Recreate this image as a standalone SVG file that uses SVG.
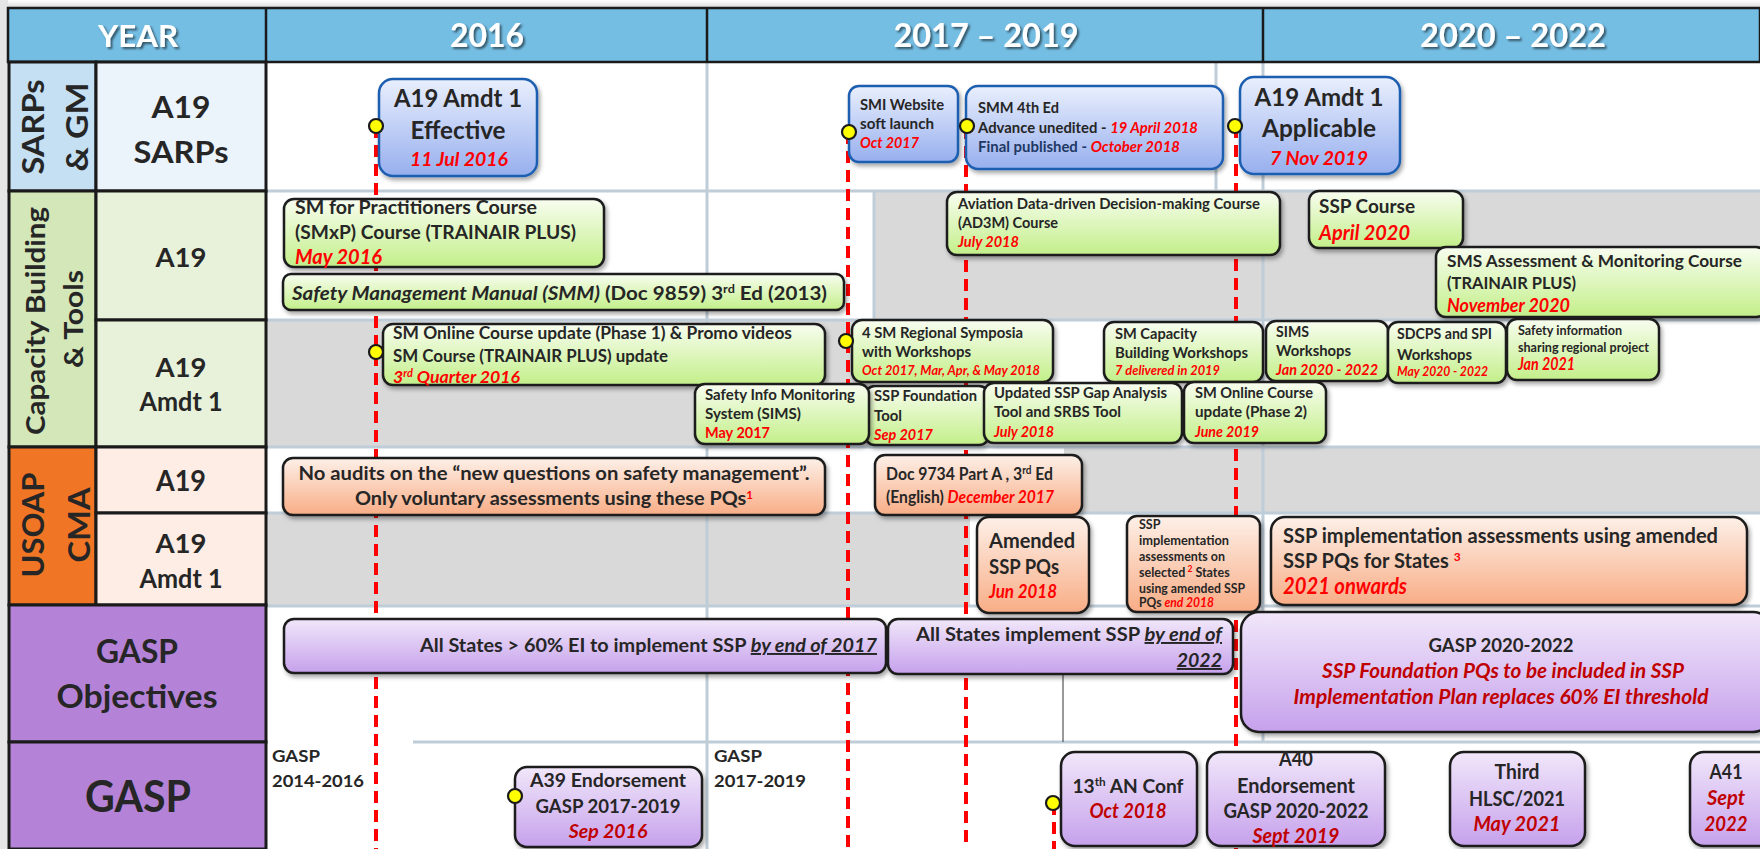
<svg xmlns="http://www.w3.org/2000/svg" width="1760" height="849" viewBox="0 0 1760 849">
<defs>
<linearGradient id="gBlue" x1="0" y1="0" x2="0" y2="1"><stop offset="0" stop-color="#E9EFFD"/><stop offset="1" stop-color="#97AFEE"/></linearGradient>
<linearGradient id="gGreen" x1="0" y1="0" x2="0" y2="1"><stop offset="0" stop-color="#F8FDF0"/><stop offset="1" stop-color="#C3EF89"/></linearGradient>
<linearGradient id="gSalmon" x1="0" y1="0" x2="0" y2="1"><stop offset="0" stop-color="#FDF0E8"/><stop offset="1" stop-color="#F8AD86"/></linearGradient>
<linearGradient id="gPurple" x1="0" y1="0" x2="0" y2="1"><stop offset="0" stop-color="#F1E7FA"/><stop offset="1" stop-color="#C6A1EC"/></linearGradient>
<linearGradient id="gTop" x1="0" y1="0" x2="0" y2="1"><stop offset="0" stop-color="#FFFFFF"/><stop offset="1" stop-color="#D8D8D8"/></linearGradient>
<filter id="sh" x="-10%" y="-10%" width="130%" height="140%"><feDropShadow dx="2" dy="3" stdDeviation="2" flood-color="#000" flood-opacity="0.35"/></filter>
<filter id="tsh" x="-10%" y="-10%" width="130%" height="140%"><feDropShadow dx="2" dy="2" stdDeviation="1" flood-color="#000" flood-opacity="0.55"/></filter>
</defs>
<style>
.f{font-family:Lato,'Liberation Sans',sans-serif;font-weight:bold;fill:#262626}
.c{text-anchor:middle}
.e{text-anchor:end}
.r{fill:#FF0000;font-style:italic}
.dr{fill:#C00000;font-style:italic}
.hd{fill:#FFFFFF;font-size:32px;text-anchor:middle;filter:url(#tsh)}
.blue{fill:url(#gBlue);stroke:#1F5FB0;stroke-width:2.5;filter:url(#sh)}
.green{fill:url(#gGreen);stroke:#1A1A1A;stroke-width:2.5;filter:url(#sh)}
.salmon{fill:url(#gSalmon);stroke:#1A1A1A;stroke-width:2.5;filter:url(#sh)}
.purple{fill:url(#gPurple);stroke:#1A1A1A;stroke-width:2.5;filter:url(#sh)}
.dash{stroke:#FF0000;stroke-width:4;stroke-dasharray:12 7;fill:none}
.dot{fill:#FFFF00;stroke:#1A1A1A;stroke-width:2.2}
.grid{stroke:#BFCDD8;stroke-width:3}
.cell{stroke:#1A1A1A;stroke-width:3}
.grey{fill:#D9D9D9}
.u{text-decoration:underline;font-style:italic}
</style>

<rect x="0" y="0" width="1760" height="849" fill="#FFFFFF"/>
<rect x="0" y="0" width="1760" height="8" fill="url(#gTop)"/>
<rect x="0" y="0" width="8" height="849" fill="#E6E6E6"/>

<g id="chart-area">
<rect x="266" y="62" width="1494" height="787" fill="#FFFFFF"/>
<rect class="grey" x="874" y="191" width="886" height="129"/>
<rect class="grey" x="266" y="320" width="608" height="127"/>
<rect class="grey" x="1064" y="447" width="696" height="66"/>
<rect class="grey" x="266" y="513" width="704" height="92"/>
<line class="grid" x1="266" y1="191" x2="1760" y2="191"/>
<line class="grid" x1="266" y1="320" x2="1760" y2="320"/>
<line class="grid" x1="266" y1="447" x2="1760" y2="447"/>
<line class="grid" x1="266" y1="513" x2="1760" y2="513"/>
<line class="grid" x1="266" y1="606" x2="1760" y2="606"/>
<line class="grid" x1="413" y1="742" x2="1760" y2="742"/>
<line class="grid" x1="707" y1="62" x2="707" y2="849"/>
<line class="grid" x1="1263" y1="62" x2="1263" y2="742"/>
<line class="grid" x1="1216" y1="62" x2="1216" y2="191"/>
<line class="grid" x1="874" y1="191" x2="874" y2="320"/>
<line x1="1063" y1="673" x2="1063" y2="742" stroke="#555" stroke-width="1.2"/>
</g>

<g id="header">
<rect x="8" y="8" width="1752" height="54" fill="#74BDE3" stroke="#1A1A1A" stroke-width="2.5"/>
<line x1="266" y1="8" x2="266" y2="62" stroke="#1A1A1A" stroke-width="2.5"/>
<line x1="707" y1="8" x2="707" y2="62" stroke="#1A1A1A" stroke-width="2.5"/>
<line x1="1263" y1="8" x2="1263" y2="62" stroke="#1A1A1A" stroke-width="2.5"/>
<text class="f hd" x="138" y="47" style="font-size:31px" textLength="80" lengthAdjust="spacingAndGlyphs">YEAR</text>
<text class="f hd" x="487" y="47" textLength="74" lengthAdjust="spacingAndGlyphs">2016</text>
<text class="f hd" x="986" y="47" textLength="185" lengthAdjust="spacingAndGlyphs">2017 – 2019</text>
<text class="f hd" x="1513" y="47" textLength="186" lengthAdjust="spacingAndGlyphs">2020 – 2022</text>
</g>

<g id="row-sarps">
<rect class="cell" x="9" y="62" width="87" height="129" fill="#C5DFF3"/>
<rect class="cell" x="96" y="62" width="170" height="129" fill="#EBF3FB"/>
<text class="f c" transform="translate(44,127) rotate(-90)" style="font-size:31px" textLength="95" lengthAdjust="spacingAndGlyphs">SARPs</text>
<text class="f c" transform="translate(88,127) rotate(-90)" style="font-size:31px" textLength="89" lengthAdjust="spacingAndGlyphs">&amp; GM</text>
<text class="f c" x="181" y="118" style="font-size:31px" textLength="59" lengthAdjust="spacingAndGlyphs">A19</text>
<text class="f c" x="181" y="163" style="font-size:31px" textLength="95" lengthAdjust="spacingAndGlyphs">SARPs</text>
</g>
<g id="row-capacity">
<rect class="cell" x="9" y="191" width="87" height="256" fill="#D3E7B8"/>
<rect class="cell" x="96" y="191" width="170" height="129" fill="#E8F2DA"/>
<rect class="cell" x="96" y="320" width="170" height="127" fill="#E8F2DA"/>
<text class="f c" transform="translate(45,321) rotate(-90)" style="font-size:27px" textLength="228" lengthAdjust="spacingAndGlyphs">Capacity Building</text>
<text class="f c" transform="translate(83,319) rotate(-90)" style="font-size:27px" textLength="98" lengthAdjust="spacingAndGlyphs">&amp; Tools</text>
<text class="f c" x="181" y="267" style="font-size:27px" textLength="51" lengthAdjust="spacingAndGlyphs">A19</text>
<text class="f c" x="181" y="377" style="font-size:27px" textLength="51" lengthAdjust="spacingAndGlyphs">A19</text>
<text class="f c" x="181" y="411" style="font-size:26px" textLength="83" lengthAdjust="spacingAndGlyphs">Amdt 1</text>
</g>
<g id="row-usoap">
<rect class="cell" x="9" y="447" width="87" height="158" fill="#F07524"/>
<rect class="cell" x="96" y="447" width="170" height="66" fill="#FDEDE4"/>
<rect class="cell" x="96" y="513" width="170" height="92" fill="#FDEDE4"/>
<text class="f c" transform="translate(44,525) rotate(-90)" style="font-size:30px" textLength="105" lengthAdjust="spacingAndGlyphs">USOAP</text>
<text class="f c" transform="translate(90,525) rotate(-90)" style="font-size:30px" textLength="75" lengthAdjust="spacingAndGlyphs">CMA</text>
<text class="f c" x="181" y="491" style="font-size:28px" textLength="50" lengthAdjust="spacingAndGlyphs">A19</text>
<text class="f c" x="181" y="553" style="font-size:27px" textLength="51" lengthAdjust="spacingAndGlyphs">A19</text>
<text class="f c" x="181" y="588" style="font-size:26px" textLength="83" lengthAdjust="spacingAndGlyphs">Amdt 1</text>
</g>
<g id="row-gasp-objectives">
<rect class="cell" x="9" y="605" width="257" height="137" fill="#B483D8"/>
<text class="f c" x="137" y="663" style="font-size:32px" textLength="82" lengthAdjust="spacingAndGlyphs">GASP</text>
<text class="f c" x="137" y="708" style="font-size:32px" textLength="161" lengthAdjust="spacingAndGlyphs">Objectives</text>
</g>
<g id="row-gasp">
<rect class="cell" x="9" y="742" width="257" height="107" fill="#B483D8"/>
<text class="f c" x="138" y="812" style="font-size:44px" textLength="106" lengthAdjust="spacingAndGlyphs">GASP</text>
</g>

<g id="connectors">
<line class="dash" x1="376" y1="126" x2="376" y2="849"/>
<line class="dash" x1="848" y1="132" x2="848" y2="849"/>
<line class="dash" x1="966" y1="127" x2="966" y2="849"/>
<line class="dash" x1="1236" y1="126" x2="1236" y2="849"/>
<line class="dash" x1="1054" y1="803" x2="1054" y2="849"/>
</g>

<g id="a19-amdt1-effective">
<rect class="blue" x="379" y="79" width="158" height="97" rx="14"/>
<text class="f c" x="458" y="107" style="font-size:24px" textLength="128" lengthAdjust="spacingAndGlyphs">A19 Amdt 1</text>
<text class="f c" x="458" y="139" style="font-size:24px" textLength="95" lengthAdjust="spacingAndGlyphs">Effective</text>
<text class="f c r" x="459" y="166" style="font-size:19.5px" textLength="98" lengthAdjust="spacingAndGlyphs">11 Jul 2016</text>
<circle class="dot" cx="376" cy="126" r="7"/>
</g>
<g id="smi-website">
<rect class="blue" x="849" y="86" width="109" height="76" rx="10"/>
<text class="f" x="860" y="110" style="font-size:15px" textLength="84" lengthAdjust="spacingAndGlyphs">SMI Website</text>
<text class="f" x="860" y="129" style="font-size:15px" textLength="74" lengthAdjust="spacingAndGlyphs">soft launch</text>
<text class="f r" x="860" y="148" style="font-size:15px" textLength="59" lengthAdjust="spacingAndGlyphs">Oct 2017</text>
<circle class="dot" cx="849" cy="132" r="7"/>
</g>
<g id="smm-4th-ed">
<rect class="blue" x="966" y="86" width="257" height="83" rx="12"/>
<text class="f" x="978" y="113" style="font-size:14.5px" textLength="81" lengthAdjust="spacingAndGlyphs">SMM 4th Ed</text>
<text class="f" x="978" y="133" style="font-size:14.5px" textLength="220" lengthAdjust="spacingAndGlyphs">Advance unedited - <tspan class="r">19 April 2018</tspan></text>
<text class="f" x="978" y="152" style="font-size:14.5px;fill:#1F3864" textLength="202" lengthAdjust="spacingAndGlyphs">Final published - <tspan class="r">October 2018</tspan></text>
<circle class="dot" cx="967" cy="126" r="7"/>
</g>
<g id="a19-amdt1-applicable">
<rect class="blue" x="1240" y="77" width="160" height="97" rx="14"/>
<text class="f c" x="1319" y="106" style="font-size:24px" textLength="129" lengthAdjust="spacingAndGlyphs">A19 Amdt 1</text>
<text class="f c" x="1319" y="137" style="font-size:25px" textLength="114" lengthAdjust="spacingAndGlyphs">Applicable</text>
<text class="f c r" x="1319" y="165" style="font-size:19.5px" textLength="98" lengthAdjust="spacingAndGlyphs">7 Nov 2019</text>
<circle class="dot" cx="1235" cy="126" r="7"/>
</g>

<g id="smxp-course">
<rect class="green" x="284" y="199" width="320" height="68" rx="10"/>
<text class="f" x="295" y="214" style="font-size:19px" textLength="242" lengthAdjust="spacingAndGlyphs">SM for Practitioners Course</text>
<text class="f" x="295" y="239" style="font-size:19px" textLength="281" lengthAdjust="spacingAndGlyphs">(SMxP) Course (TRAINAIR PLUS)</text>
<text class="f r" x="295" y="264" style="font-size:20px" textLength="87" lengthAdjust="spacingAndGlyphs">May 2016</text>
</g>
<g id="smm-3rd-ed">
<rect class="green" x="283" y="274" width="561" height="36" rx="8"/>
<text class="f" x="292" y="300" style="font-size:19.5px" textLength="535" lengthAdjust="spacingAndGlyphs"><tspan font-style="italic">Safety Management Manual (SMM)</tspan> (Doc 9859) 3<tspan baseline-shift="super" style="font-size:12px">rd</tspan> Ed (2013)</text>
</g>
<g id="ad3m-course">
<rect class="green" x="947" y="192" width="333" height="63" rx="10"/>
<text class="f" x="958" y="209" style="font-size:15px" textLength="302" lengthAdjust="spacingAndGlyphs">Aviation Data-driven Decision-making Course</text>
<text class="f" x="958" y="228" style="font-size:15px" textLength="100" lengthAdjust="spacingAndGlyphs">(AD3M) Course</text>
<text class="f r" x="958" y="247" style="font-size:15px" textLength="61" lengthAdjust="spacingAndGlyphs">July 2018</text>
</g>
<g id="ssp-course">
<rect class="green" x="1309" y="191" width="154" height="57" rx="10"/>
<text class="f" x="1319" y="213" style="font-size:19px" textLength="96" lengthAdjust="spacingAndGlyphs">SSP Course</text>
<text class="f r" x="1319" y="240" style="font-size:21px" textLength="91" lengthAdjust="spacingAndGlyphs">April 2020</text>
</g>
<g id="sms-assessment-course">
<rect class="green" x="1436" y="247" width="330" height="70" rx="10"/>
<text class="f" x="1447" y="267" style="font-size:17px" textLength="295" lengthAdjust="spacingAndGlyphs">SMS Assessment &amp; Monitoring Course</text>
<text class="f" x="1447" y="289" style="font-size:17px" textLength="129" lengthAdjust="spacingAndGlyphs">(TRAINAIR PLUS)</text>
<text class="f r" x="1447" y="312" style="font-size:18px" textLength="123" lengthAdjust="spacingAndGlyphs">November 2020</text>
</g>

<g id="sm-online-phase1">
<rect class="green" x="383" y="324" width="442" height="61" rx="10"/>
<text class="f" x="393" y="339" style="font-size:16.5px" textLength="399" lengthAdjust="spacingAndGlyphs">SM Online Course update (Phase 1) &amp; Promo videos</text>
<text class="f" x="393" y="362" style="font-size:16.5px" textLength="275" lengthAdjust="spacingAndGlyphs">SM Course (TRAINAIR PLUS) update</text>
<text class="f r" x="393" y="383" style="font-size:17px" textLength="127" lengthAdjust="spacingAndGlyphs">3<tspan baseline-shift="super" style="font-size:10.5px">rd</tspan> Quarter 2016</text>
<circle class="dot" cx="376" cy="352" r="7"/>
</g>
<g id="regional-symposia">
<rect class="green" x="852" y="320" width="201" height="62" rx="10"/>
<text class="f" x="862" y="338" style="font-size:15.5px" textLength="161" lengthAdjust="spacingAndGlyphs">4 SM Regional Symposia</text>
<text class="f" x="862" y="357" style="font-size:15.5px" textLength="109" lengthAdjust="spacingAndGlyphs">with Workshops</text>
<text class="f r" x="862" y="375" style="font-size:12.5px" textLength="178" lengthAdjust="spacingAndGlyphs">Oct 2017, Mar, Apr, &amp; May 2018</text>
<circle class="dot" cx="846" cy="341" r="7"/>
</g>
<g id="sm-capacity-workshops">
<rect class="green" x="1104" y="322" width="159" height="60" rx="10"/>
<text class="f" x="1115" y="339" style="font-size:15px" textLength="82" lengthAdjust="spacingAndGlyphs">SM Capacity</text>
<text class="f" x="1115" y="358" style="font-size:15px" textLength="133" lengthAdjust="spacingAndGlyphs">Building Workshops</text>
<text class="f r" x="1115" y="375" style="font-size:13px" textLength="105" lengthAdjust="spacingAndGlyphs">7 delivered in 2019</text>
</g>
<g id="sims-workshops">
<rect class="green" x="1266" y="321" width="122" height="60" rx="10"/>
<text class="f" x="1276" y="337" style="font-size:15.5px" textLength="33" lengthAdjust="spacingAndGlyphs">SIMS</text>
<text class="f" x="1276" y="356" style="font-size:15.5px" textLength="75" lengthAdjust="spacingAndGlyphs">Workshops</text>
<text class="f r" x="1276" y="375" style="font-size:15.5px" textLength="102" lengthAdjust="spacingAndGlyphs">Jan 2020 - 2022</text>
</g>
<g id="sdcps-workshops">
<rect class="green" x="1388" y="322" width="118" height="61" rx="10"/>
<text class="f" x="1397" y="339" style="font-size:15.5px" textLength="95" lengthAdjust="spacingAndGlyphs">SDCPS and SPI</text>
<text class="f" x="1397" y="360" style="font-size:15.5px" textLength="75" lengthAdjust="spacingAndGlyphs">Workshops</text>
<text class="f r" x="1397" y="376" style="font-size:12.5px" textLength="91" lengthAdjust="spacingAndGlyphs">May 2020 - 2022</text>
</g>
<g id="safety-info-sharing">
<rect class="green" x="1507" y="319" width="152" height="61" rx="10"/>
<text class="f" x="1518" y="335" style="font-size:13px" textLength="104" lengthAdjust="spacingAndGlyphs">Safety information</text>
<text class="f" x="1518" y="352" style="font-size:13px" textLength="131" lengthAdjust="spacingAndGlyphs">sharing regional project</text>
<text class="f r" x="1518" y="370" style="font-size:16.5px" textLength="57" lengthAdjust="spacingAndGlyphs">Jan 2021</text>
</g>
<g id="ssp-foundation-tool">
<rect class="green" x="865" y="386" width="124" height="59" rx="10"/>
<text class="f" x="874" y="401" style="font-size:15px" textLength="103" lengthAdjust="spacingAndGlyphs">SSP Foundation</text>
<text class="f" x="874" y="421" style="font-size:15px" textLength="28" lengthAdjust="spacingAndGlyphs">Tool</text>
<text class="f r" x="874" y="440" style="font-size:15.5px" textLength="59" lengthAdjust="spacingAndGlyphs">Sep 2017</text>
</g>
<g id="sims">
<rect class="green" x="695" y="384" width="174" height="60" rx="10"/>
<text class="f" x="705" y="400" style="font-size:15.5px" textLength="150" lengthAdjust="spacingAndGlyphs">Safety Info Monitoring</text>
<text class="f" x="705" y="419" style="font-size:15.5px" textLength="96" lengthAdjust="spacingAndGlyphs">System (SIMS)</text>
<text class="f" x="705" y="438" style="font-size:16px;fill:#FF0000" textLength="65" lengthAdjust="spacingAndGlyphs">May 2017</text>
</g>
<g id="ssp-gap-analysis">
<rect class="green" x="984" y="383" width="198" height="60" rx="10"/>
<text class="f" x="994" y="398" style="font-size:15.5px" textLength="173" lengthAdjust="spacingAndGlyphs">Updated SSP Gap Analysis</text>
<text class="f" x="994" y="417" style="font-size:15.5px" textLength="127" lengthAdjust="spacingAndGlyphs">Tool and SRBS Tool</text>
<text class="f r" x="994" y="437" style="font-size:16px" textLength="60" lengthAdjust="spacingAndGlyphs">July 2018</text>
</g>
<g id="sm-online-phase2">
<rect class="green" x="1184" y="382" width="142" height="61" rx="10"/>
<text class="f" x="1195" y="398" style="font-size:15.5px" textLength="118" lengthAdjust="spacingAndGlyphs">SM Online Course</text>
<text class="f" x="1195" y="417" style="font-size:15.5px" textLength="112" lengthAdjust="spacingAndGlyphs">update (Phase 2)</text>
<text class="f r" x="1195" y="437" style="font-size:16px" textLength="64" lengthAdjust="spacingAndGlyphs">June 2019</text>
</g>

<g id="no-audits">
<rect class="salmon" x="283" y="458" width="542" height="57" rx="10"/>
<text class="f c" x="554" y="480" style="font-size:19px" textLength="511" lengthAdjust="spacingAndGlyphs">No audits on the “new questions on safety management”.</text>
<text class="f c" x="554" y="505" style="font-size:19px" textLength="398" lengthAdjust="spacingAndGlyphs">Only voluntary assessments using these PQs<tspan baseline-shift="super" style="font-size:11px;fill:#FF0000">1</tspan></text>
</g>
<g id="doc-9734">
<rect class="salmon" x="875" y="455" width="207" height="60" rx="10"/>
<text class="f" x="886" y="480" style="font-size:16.5px" textLength="167" lengthAdjust="spacingAndGlyphs">Doc 9734 Part A , 3<tspan baseline-shift="super" style="font-size:10.5px">rd</tspan> Ed</text>
<text class="f" x="886" y="503" style="font-size:16.5px" textLength="168" lengthAdjust="spacingAndGlyphs">(English) <tspan class="r">December 2017</tspan></text>
</g>
<g id="amended-ssp-pqs">
<rect class="salmon" x="977" y="517" width="112" height="96" rx="12"/>
<text class="f" x="989" y="548" style="font-size:21px" textLength="86" lengthAdjust="spacingAndGlyphs">Amended</text>
<text class="f" x="989" y="574" style="font-size:21px" textLength="70" lengthAdjust="spacingAndGlyphs">SSP PQs</text>
<text class="f r" x="989" y="598" style="font-size:18.5px" textLength="68" lengthAdjust="spacingAndGlyphs">Jun 2018</text>
</g>
<g id="ssp-impl-selected">
<rect class="salmon" x="1127" y="516" width="133" height="96" rx="10"/>
<text class="f" x="1139" y="529" style="font-size:12.5px">SSP</text>
<text class="f" x="1139" y="545" style="font-size:12.5px" textLength="90" lengthAdjust="spacingAndGlyphs">implementation</text>
<text class="f" x="1139" y="561" style="font-size:12.5px" textLength="86" lengthAdjust="spacingAndGlyphs">assessments on</text>
<text class="f" x="1139" y="577" style="font-size:12.5px">selected<tspan baseline-shift="super" style="font-size:8.5px;fill:#FF0000"> 2</tspan> States</text>
<text class="f" x="1139" y="593" style="font-size:12.5px" textLength="106" lengthAdjust="spacingAndGlyphs">using amended SSP</text>
<text class="f" x="1139" y="607" style="font-size:12.5px" textLength="75" lengthAdjust="spacingAndGlyphs">PQs <tspan class="r">end 2018</tspan></text>
</g>
<g id="ssp-impl-2021">
<rect class="salmon" x="1271" y="517" width="476" height="88" rx="14"/>
<text class="f" x="1283" y="543" style="font-size:20px" textLength="435" lengthAdjust="spacingAndGlyphs">SSP implementation assessments using amended</text>
<text class="f" x="1283" y="568" style="font-size:20px">SSP PQs for States <tspan baseline-shift="super" style="font-size:12px;fill:#FF0000">3</tspan></text>
<text class="f r" x="1283" y="594" style="font-size:22px" textLength="124" lengthAdjust="spacingAndGlyphs">2021 onwards</text>
</g>

<g id="ei-60-2017">
<rect class="purple" x="284" y="619" width="602" height="54" rx="10"/>
<text class="f e" x="877" y="652" style="font-size:19.5px" textLength="457" lengthAdjust="spacingAndGlyphs">All States &gt; 60% EI to implement SSP <tspan class="u">by end of 2017</tspan></text>
</g>
<g id="implement-ssp-2022">
<rect class="purple" x="888" y="619" width="345" height="55" rx="10"/>
<text class="f e" x="1222" y="641" style="font-size:19.5px" textLength="306" lengthAdjust="spacingAndGlyphs">All States implement SSP <tspan class="u">by end of</tspan></text>
<text class="f e" x="1222" y="667" style="font-size:19.5px"><tspan class="u">2022</tspan></text>
</g>
<g id="gasp-2020-2022-objective">
<rect class="purple" x="1241" y="612" width="530" height="120" rx="18"/>
<text class="f c" x="1501" y="652" style="font-size:18.5px" textLength="145" lengthAdjust="spacingAndGlyphs">GASP 2020-2022</text>
<text class="f c dr" x="1503" y="678" style="font-size:20px" textLength="362" lengthAdjust="spacingAndGlyphs">SSP Foundation PQs to be included in SSP</text>
<text class="f c dr" x="1501" y="704" style="font-size:20px" textLength="415" lengthAdjust="spacingAndGlyphs">Implementation Plan replaces 60% EI threshold</text>
</g>

<g id="gasp-2014-2016">
<text class="f" x="272" y="762" style="font-size:17.5px" textLength="48" lengthAdjust="spacingAndGlyphs">GASP</text>
<text class="f" x="272" y="787" style="font-size:17.5px" textLength="92" lengthAdjust="spacingAndGlyphs">2014-2016</text>
</g>
<g id="gasp-2017-2019">
<text class="f" x="714" y="762" style="font-size:17.5px" textLength="48" lengthAdjust="spacingAndGlyphs">GASP</text>
<text class="f" x="714" y="787" style="font-size:17.5px" textLength="92" lengthAdjust="spacingAndGlyphs">2017-2019</text>
</g>
<g id="a39-endorsement">
<rect class="purple" x="515" y="767" width="187" height="80" rx="12"/>
<text class="f c" x="608" y="787" style="font-size:19.5px" textLength="156" lengthAdjust="spacingAndGlyphs">A39 Endorsement</text>
<text class="f c" x="608" y="813" style="font-size:19.5px" textLength="145" lengthAdjust="spacingAndGlyphs">GASP 2017-2019</text>
<text class="f c dr" x="608" y="838" style="font-size:19.5px">Sep 2016</text>
<circle class="dot" cx="515" cy="796" r="7"/>
</g>
<g id="an-conf-13">
<rect class="purple" x="1061" y="752" width="136" height="94" rx="14"/>
<text class="f c" x="1128" y="793" style="font-size:19.5px" textLength="111" lengthAdjust="spacingAndGlyphs">13<tspan baseline-shift="super" style="font-size:12px">th</tspan> AN Conf</text>
<text class="f c dr" x="1128" y="818" style="font-size:20.5px" textLength="77" lengthAdjust="spacingAndGlyphs">Oct 2018</text>
<circle class="dot" cx="1053" cy="803" r="7"/>
</g>
<g id="a40-endorsement">
<rect class="purple" x="1207" y="752" width="178" height="94" rx="14"/>
<text class="f c" x="1296" y="766" style="font-size:20.5px" textLength="34" lengthAdjust="spacingAndGlyphs">A40</text>
<text class="f c" x="1296" y="793" style="font-size:20.5px" textLength="118" lengthAdjust="spacingAndGlyphs">Endorsement</text>
<text class="f c" x="1296" y="818" style="font-size:20.5px" textLength="145" lengthAdjust="spacingAndGlyphs">GASP 2020-2022</text>
<text class="f c dr" x="1296" y="843" style="font-size:20.5px" textLength="87" lengthAdjust="spacingAndGlyphs">Sept 2019</text>
</g>
<g id="third-hlsc">
<rect class="purple" x="1450" y="752" width="135" height="94" rx="14"/>
<text class="f c" x="1517" y="779" style="font-size:20.5px" textLength="45" lengthAdjust="spacingAndGlyphs">Third</text>
<text class="f c" x="1517" y="806" style="font-size:20.5px" textLength="96" lengthAdjust="spacingAndGlyphs">HLSC/2021</text>
<text class="f c dr" x="1517" y="831" style="font-size:20.5px" textLength="87" lengthAdjust="spacingAndGlyphs">May 2021</text>
</g>
<g id="a41">
<rect class="purple" x="1690" y="752" width="90" height="94" rx="14"/>
<text class="f c" x="1726" y="779" style="font-size:20.5px" textLength="33" lengthAdjust="spacingAndGlyphs">A41</text>
<text class="f c dr" x="1726" y="805" style="font-size:20.5px" textLength="38" lengthAdjust="spacingAndGlyphs">Sept</text>
<text class="f c dr" x="1726" y="831" style="font-size:20.5px" textLength="43" lengthAdjust="spacingAndGlyphs">2022</text>
</g>
</svg>
